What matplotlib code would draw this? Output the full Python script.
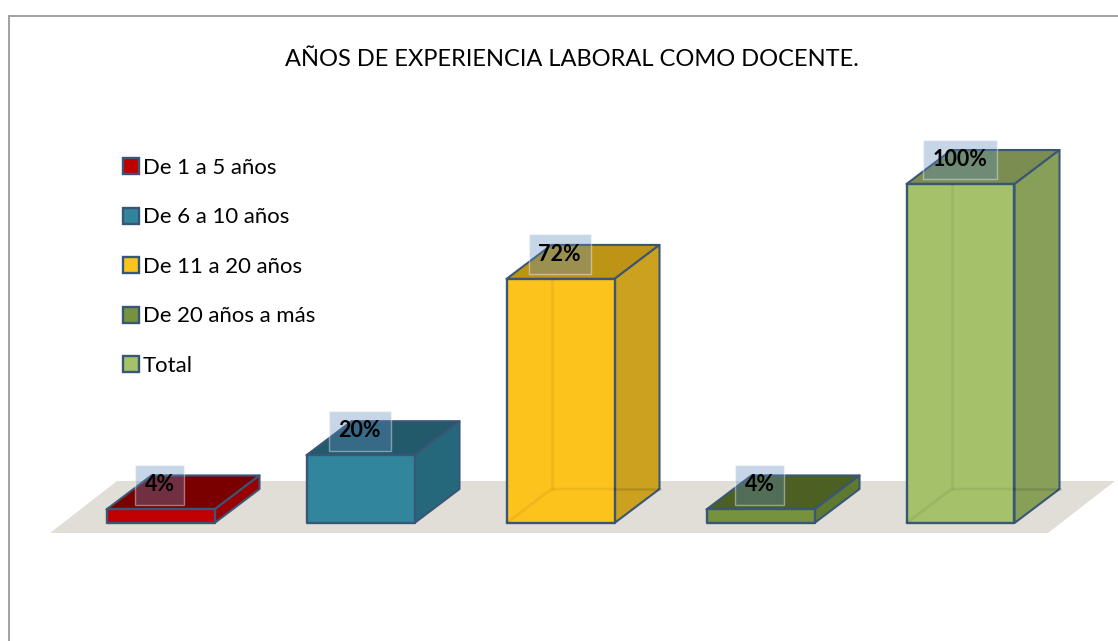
import matplotlib
matplotlib.use("Agg")
import matplotlib.pyplot as plt
from matplotlib.patches import Polygon, Patch

categories = ["De 1 a 5 años", "De 6 a 10 años", "De 11 a 20 años", "De 20 años a más", "Total"]
values = [4, 20, 72, 4, 100]
labels = ["4%", "20%", "72%", "4%", "100%"]
front_colors = ["#C00000", "#31859C", "#FDC31D", "#76923C", "#A5C26A"]
top_colors = ["#7A0000", "#225A6B", "#BE9417", "#4C6024", "#7B8D50"]
side_colors = ["#990000", "#26687B", "#CBA11F", "#5D7A2E", "#889F58"]
title = "AÑOS DE EXPERIENCIA LABORAL COMO DOCENTE."

W, H = 1118, 641
plt.rcParams["font.family"] = ["Lato", "DejaVu Sans"]
fig = plt.figure(figsize=(W / 100, H / 100), dpi=100)
fig.patch.set_facecolor("white")

# pixel geometry of the plot
x0_px, x4_px, y0_px, y100_px = 160.5, 960.5, 523.0, 184.0
ax = fig.add_axes([x0_px / W, 1 - y0_px / H, (x4_px - x0_px) / W, (y0_px - y100_px) / H])
ax.set_xlim(0, len(values) - 1)
ax.set_ylim(0, 100)
ax.axis("off")

px_x = (len(values) - 1) / (x4_px - x0_px)
px_y = 100 / (y0_px - y100_px)
bar_w = 108 * px_x
dx, dy = 45 * px_x, 34 * px_y
edge = "#3A5676"

# floor
floor = Polygon([(50 - x0_px, y0_px - 533), (1048 - x0_px, y0_px - 533),
                 (1115 - x0_px, y0_px - 481), (117 - x0_px, y0_px - 481)], closed=True,
                transform=matplotlib.transforms.Affine2D().scale(px_x, px_y) + ax.transData,
                facecolor="#E0DED7", edgecolor="none", zorder=1, clip_on=False)
ax.add_patch(floor)

for i, v in enumerate(values):
    l, r = i - bar_w / 2, i + bar_w / 2
    kw = dict(closed=True, clip_on=False, joinstyle="round")
    ax.add_patch(Polygon([(l, v), (r, v), (r + dx, v + dy), (l + dx, v + dy)],
                         facecolor=top_colors[i], edgecolor=edge, linewidth=1.5, zorder=2, **kw))
    ax.add_patch(Polygon([(r, 0), (r + dx, dy), (r + dx, v + dy), (r, v)],
                         facecolor=side_colors[i], edgecolor=edge, linewidth=1.5, zorder=2, **kw))
    ax.add_patch(Polygon([(l, 0), (r, 0), (r, v), (l, v)],
                         facecolor=front_colors[i], edgecolor=edge, linewidth=1.7, zorder=3, **kw))
    # hidden back edges seen through the tall, glass-like bars
    if v > 50:
        c = "#000000"
        ax.plot([l, l + dx, r], [0, dy, dy], color=c, alpha=0.06, lw=2, zorder=4, clip_on=False)
        ax.plot([l + dx, l + dx], [dy, v], color=c, alpha=0.06, lw=2, zorder=4, clip_on=False)
        ax.plot([r, r + dx], [dy, dy], color=c, alpha=0.10, lw=2, zorder=4, clip_on=False)
    ax.annotate(labels[i], xy=(i, v), xytext=(-0.5, 24.5 * 0.72), textcoords="offset points",
                ha="center", va="center", fontsize=15.5, fontweight="bold", color="black", zorder=6,
                annotation_clip=False,
                bbox=dict(boxstyle="square,pad=0.44", facecolor=(0.37, 0.54, 0.74, 0.35),
                          edgecolor=(1, 1, 1, 0.4), linewidth=1))

# legend
handles = [Patch(facecolor=c, edgecolor=edge, linewidth=1.7) for c in front_colors]
fig.legend(handles, categories, loc="upper left", bbox_to_anchor=(123 / W, 1 - 158 / H),
           frameon=False, fontsize=15.9, handlelength=0.72, handleheight=0.72, handletextpad=0.18,
           labelspacing=1.335, borderpad=0, borderaxespad=0)

fig.text(571.5 / W, 1 - 60 / H, title, ha="center", va="center", fontsize=17, color="black")

# chart frame
frame = dict(color="#9A9A9A", lw=1.3, transform=fig.transFigure, solid_capstyle="butt")
fig.add_artist(plt.Line2D([9 / W, 9 / W], [0, 1 - 15 / H], **frame))
fig.add_artist(plt.Line2D([9 / W, 1], [1 - 15.5 / H, 1 - 15.5 / H], **frame))

fig.savefig("out.png", dpi=100)
